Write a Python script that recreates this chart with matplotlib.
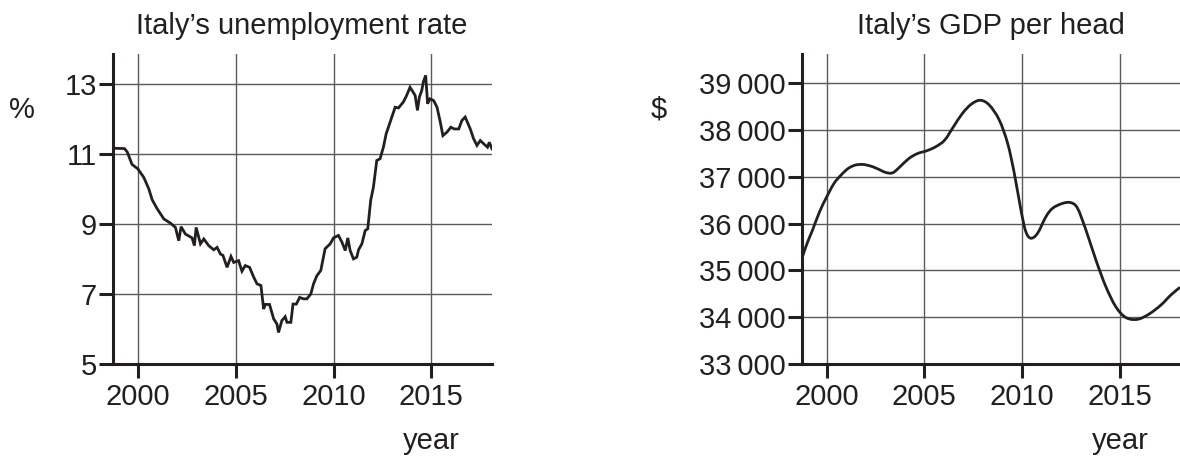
import matplotlib
matplotlib.use('Agg')
from matplotlib import pyplot as plt
from matplotlib.ticker import FuncFormatter
from matplotlib.path import Path
from matplotlib.patches import PathPatch

plt.rcParams['font.family'] = ['Liberation Sans', 'DejaVu Sans']

# Italy's unemployment rate (%)
unemp_years = [1998.73, 1999.32, 1999.46, 1999.7, 2000.0, 2000.3, 2000.56, 2000.73, 2000.99,
               2001.33, 2001.67, 2001.92, 2002.09, 2002.21, 2002.43, 2002.77, 2002.89, 2002.98,
               2003.2, 2003.37, 2003.62, 2003.88, 2004.05, 2004.22, 2004.35, 2004.56, 2004.76,
               2004.9, 2005.15, 2005.32, 2005.49, 2005.71, 2005.92, 2006.09, 2006.29, 2006.43,
               2006.51, 2006.73, 2006.94, 2007.11, 2007.19, 2007.36, 2007.53, 2007.62, 2007.82,
               2007.93, 2008.1, 2008.27, 2008.47, 2008.64, 2008.84, 2008.98, 2009.15, 2009.35,
               2009.57, 2009.83, 2010.0, 2010.25, 2010.43, 2010.6, 2010.73, 2010.85, 2011.02,
               2011.19, 2011.28, 2011.45, 2011.62, 2011.75, 2011.9, 2012.04, 2012.21, 2012.38,
               2012.55, 2012.69, 2012.89, 2013.15, 2013.32, 2013.57, 2013.74, 2013.91, 2014.17,
               2014.29, 2014.39, 2014.51, 2014.59, 2014.71, 2014.81, 2014.93, 2015.12, 2015.29,
               2015.46, 2015.59, 2015.8, 2016.0, 2016.17, 2016.4, 2016.56, 2016.73, 2016.99,
               2017.16, 2017.33, 2017.5, 2017.67, 2017.87, 2017.96, 2018.1]
unemp_rate = [11.16, 11.15, 11.05, 10.7, 10.57, 10.33, 10.0, 9.69, 9.43,
              9.14, 9.02, 8.9, 8.52, 8.92, 8.71, 8.6, 8.38, 8.9,
              8.43, 8.57, 8.38, 8.26, 8.33, 8.14, 8.1, 7.76, 8.07,
              7.9, 7.95, 7.65, 7.81, 7.76, 7.48, 7.29, 7.24, 6.57,
              6.7, 6.7, 6.29, 6.14, 5.9, 6.24, 6.35, 6.19, 6.19,
              6.71, 6.71, 6.9, 6.86, 6.86, 7.0, 7.29, 7.52, 7.67,
              8.29, 8.43, 8.6, 8.67, 8.48, 8.24, 8.6, 8.24, 8.0,
              8.05, 8.26, 8.43, 8.81, 8.86, 9.67, 10.05, 10.81, 10.86,
              11.19, 11.57, 11.9, 12.33, 12.31, 12.48, 12.67, 12.9, 12.67,
              12.24, 12.62, 12.81, 13.05, 13.24, 12.43, 12.57, 12.52, 12.33,
              11.9, 11.52, 11.62, 11.76, 11.71, 11.71, 11.95, 12.05, 11.71,
              11.43, 11.24, 11.38, 11.29, 11.19, 11.33, 11.14]

# Italy's GDP per head ($)
gdp_years = [1998.73, 1998.99, 1999.27, 1999.63, 2000.0, 2000.37, 2000.73, 2001.1, 2001.46,
             2001.83, 2002.19, 2002.56, 2003.02, 2003.38, 2003.75, 2004.21, 2004.66, 2005.12,
             2005.58, 2006.04, 2006.49, 2006.95, 2007.41, 2007.87, 2008.33, 2008.84, 2009.27,
             2009.61, 2009.95, 2010.2, 2010.46, 2010.8, 2011.23, 2011.57, 2012.08, 2012.51,
             2012.85, 2013.28, 2013.79, 2014.3, 2014.81, 2015.32, 2015.92, 2016.52, 2017.12,
             2017.63, 2018.1]
gdp_head = [35264, 35580, 35864, 36256, 36577, 36862, 37040, 37183, 37254,
            37268, 37240, 37183, 37097, 37090, 37218, 37396, 37503, 37560,
            37646, 37788, 38073, 38359, 38558, 38640, 38537, 38216, 37715,
            37075, 36290, 35830, 35690, 35795, 36150, 36330, 36435, 36450,
            36330, 35865, 35225, 34655, 34225, 33995, 33955, 34070, 34260,
            34475, 34640]

year_ticks = [2000, 2005, 2010, 2015]
unemp_ticks = [5, 7, 9, 11, 13]
gdp_ticks = [33000, 34000, 35000, 36000, 37000, 38000, 39000]

ink = '#231f20'
grid_col = '#5a5a5a'
x_range = (1998.73, 2018.1)
fs = 21


# smooth line through the read points (Catmull-Rom drawn as cubic Bezier segments)
def smooth_path(xs, ys):
    verts = [(xs[0], ys[0])]
    codes = [Path.MOVETO]
    n = len(xs)
    for i in range(n - 1):
        x0, y0 = (xs[i - 1], ys[i - 1]) if i > 0 else (xs[i], ys[i])
        x1, y1 = xs[i], ys[i]
        x2, y2 = xs[i + 1], ys[i + 1]
        x3, y3 = (xs[i + 2], ys[i + 2]) if i + 2 < n else (x2, y2)
        verts += [(x1 + (x2 - x0) / 6, y1 + (y2 - y0) / 6),
                  (x2 - (x3 - x1) / 6, y2 - (y3 - y1) / 6),
                  (x2, y2)]
        codes += [Path.CURVE4] * 3
    return Path(verts, codes)


fig = plt.figure(figsize=(11.8, 4.59), dpi=100)
ax1 = fig.add_axes([113 / 1180, 1 - 364 / 459, 379 / 1180, 310 / 459])
ax2 = fig.add_axes([802 / 1180, 1 - 364 / 459, 378 / 1180, 310 / 459])


def style_axes(ax):
    for s in ['top', 'right']:
        ax.spines[s].set_visible(False)
    for s in ['left', 'bottom']:
        ax.spines[s].set_linewidth(2.2)
        ax.spines[s].set_color(ink)
    ax.tick_params(length=10, width=2.2, color=ink, labelsize=fs, labelcolor=ink)
    ax.tick_params(axis='y', pad=1.5)
    ax.tick_params(axis='x', pad=4)
    ax.grid(True, color=grid_col, linewidth=1.0)
    ax.set_axisbelow(True)
    ax.set_xticks(year_ticks)
    ax.set_xlim(*x_range)


style_axes(ax1)
ax1.plot(unemp_years, unemp_rate, color=ink, linewidth=2.0, solid_joinstyle='miter')
ax1.set_yticks(unemp_ticks)
ax1.set_ylim(5, 13.85)

style_axes(ax2)
ax2.add_patch(PathPatch(smooth_path(gdp_years, gdp_head), facecolor='none', edgecolor=ink,
                        linewidth=2.0))
ax2.set_yticks(gdp_ticks)
ax2.set_ylim(33000, 39630)
ax2.yaxis.set_major_formatter(FuncFormatter(lambda v, p: '{:,.0f}'.format(v).replace(',', '\u2009')))

# titles, units and "year" labels
fig.text(302 / 1180, 1 - 26 / 459, 'Italy\u2019s unemployment rate', ha='center', va='center',
         fontsize=fs, color=ink)
fig.text(991 / 1180, 1 - 26 / 459, 'Italy\u2019s GDP per head', ha='center', va='center',
         fontsize=fs, color=ink)
fig.text(22 / 1180, 1 - 110 / 459, '%', ha='center', va='center', fontsize=fs, color=ink)
fig.text(659 / 1180, 1 - 110 / 459, '$', ha='center', va='center', fontsize=fs, color=ink)
fig.text(431 / 1180, 1 - 441 / 459, 'year', ha='center', va='center', fontsize=fs, color=ink)
fig.text(1120 / 1180, 1 - 441 / 459, 'year', ha='center', va='center', fontsize=fs, color=ink)

plt.savefig('out.png', dpi=100)
plt.close()
